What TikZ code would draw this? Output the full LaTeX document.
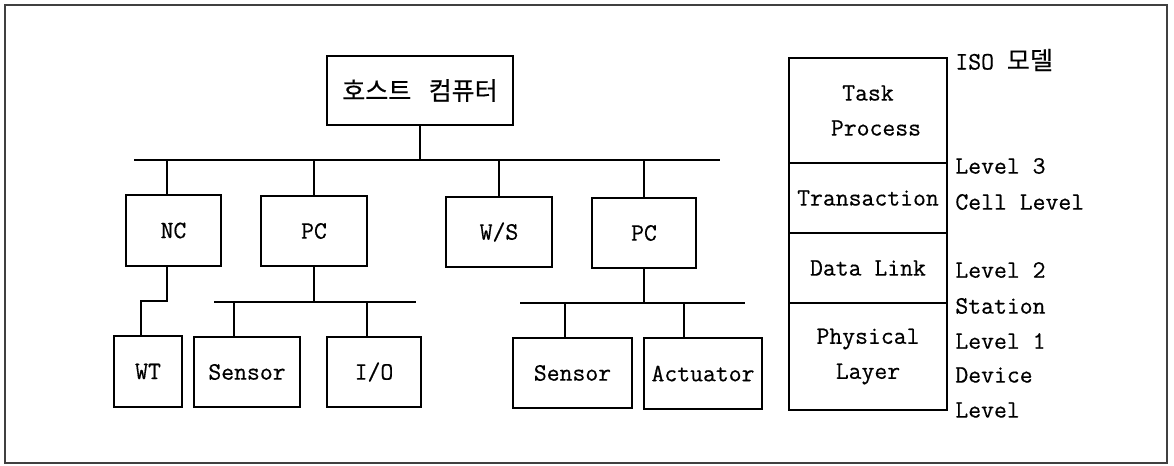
\documentclass[tikz,border=0pt]{standalone}
\usepackage{fontspec}
\setmonofont{lmmono12-regular.otf}[FakeBold=0.5]
\newfontfamily\kor{Noto Sans CJK KR}[FakeBold=0.3]
\usetikzlibrary{positioning}
\newcommand{\lbl}{\fontsize{12.5}{17.5}\selectfont\ttfamily}

\begin{document}
\begin{tikzpicture}[x=0.5pt,y=-0.5pt,font=\lbl,
  box/.style={draw,line width=0.8pt,inner sep=0pt,align=center},
  wire/.style={line width=0.55pt},
  side/.style={anchor=west,inner sep=0pt}]
  \useasboundingbox (0,0) rectangle (1174,466);
  \draw[line width=0.7pt,black!75] (5,5) rectangle (1167,463);
  % host and first bus
  \node[box,minimum width=93pt,minimum height=34.5pt] (host) at (420,90.5) {\kor{호스트}\hspace{0.7em}\kor{컴퓨터}};
  \coordinate (busL) at (134,160); \coordinate (busR) at (720,160);
  \draw[wire] (busL) -- (busR);
  \draw[wire] (host.south) -- (host.south |- busL);
  \node[box,minimum width=47.5pt,minimum height=35.5pt] (nc) at (173.5,230.5) {NC};
  \node[box,minimum width=53pt,minimum height=35pt] (pcA) at (314,231) {PC};
  \node[box,minimum width=53pt,minimum height=35pt] (ws) at (499,232) {W/S};
  \node[box,minimum width=52pt,minimum height=35pt] (pcB) at (644,233) {PC};
  \coordinate (tNC) at (167,160);
  \draw[wire] (tNC) -- (tNC |- nc.north);
  \draw[wire] (pcA.north) -- (pcA.north |- busL);
  \draw[wire] (ws.north) -- (ws.north |- busL);
  \draw[wire] (pcB.north) -- (pcB.north |- busL);
  % lower level
  \node[box,minimum width=34pt,minimum height=35.5pt] (wt) at (148,371.5) {WT};
  \node[box,minimum width=53pt,minimum height=35pt] (senA) at (247,372) {Sensor};
  \node[box,minimum width=47pt,minimum height=35pt] (io) at (374,372) {I/O};
  \node[box,minimum width=59.5pt,minimum height=35pt] (senB) at (572.5,373) {Sensor};
  \node[box,minimum width=59pt,minimum height=35.5pt] (act) at (703,373.5) {Actuator};
  \coordinate (kWT) at (141,301);
  \draw[wire] (tNC |- nc.south) -- (tNC |- kWT) -- (kWT) -- (kWT |- wt.north);
  \coordinate (busAL) at (214,302); \coordinate (busAR) at (416,302);
  \draw[wire] (busAL) -- (busAR);
  \draw[wire] (pcA.south) -- (pcA.south |- busAL);
  \coordinate (tSA) at (234,302); \coordinate (tIO) at (367,302);
  \draw[wire] (tSA) -- (tSA |- senA.north);
  \draw[wire] (tIO) -- (tIO |- io.north);
  \coordinate (busBL) at (520,303); \coordinate (busBR) at (745,303);
  \draw[wire] (busBL) -- (busBR);
  \draw[wire] (pcB.south) -- (pcB.south |- busBL);
  \coordinate (tSB) at (565,303); \coordinate (tAC) at (684,303);
  \draw[wire] (tSB) -- (tSB |- senB.north);
  \draw[wire] (tAC) -- (tAC |- act.north);
  % ISO stack
  \node[box,minimum width=79pt,minimum height=52.5pt] (task) at (868,110.5) {Task\\\hspace*{8pt}Process};
  \node[box,minimum width=79pt,minimum height=35pt] (trans) at (868,198) {Transaction};
  \node[box,minimum width=79pt,minimum height=35pt] (dlink) at (868,268) {Data Link};
  \node[box,minimum width=79pt,minimum height=53.5pt] (phys) at (868,356.5) {Physical\\Layer};
  \node[side] (iso) at (955,60) {ISO \kor{모델}};
  \node[side] (lv3) at (955,166) {Level 3};
  \node[side] (cell) at (955,202) {Cell Level};
  \node[side] (lv2) at (955,270) {Level 2};
  \node[side] (stn) at (955,306) {Station};
  \node[side] (lv1) at (955,341) {Level 1};
  \node[side] (dev) at (955,375) {Device};
  \node[side] (lvl) at (955,410) {Level};
\end{tikzpicture}
\end{document}
